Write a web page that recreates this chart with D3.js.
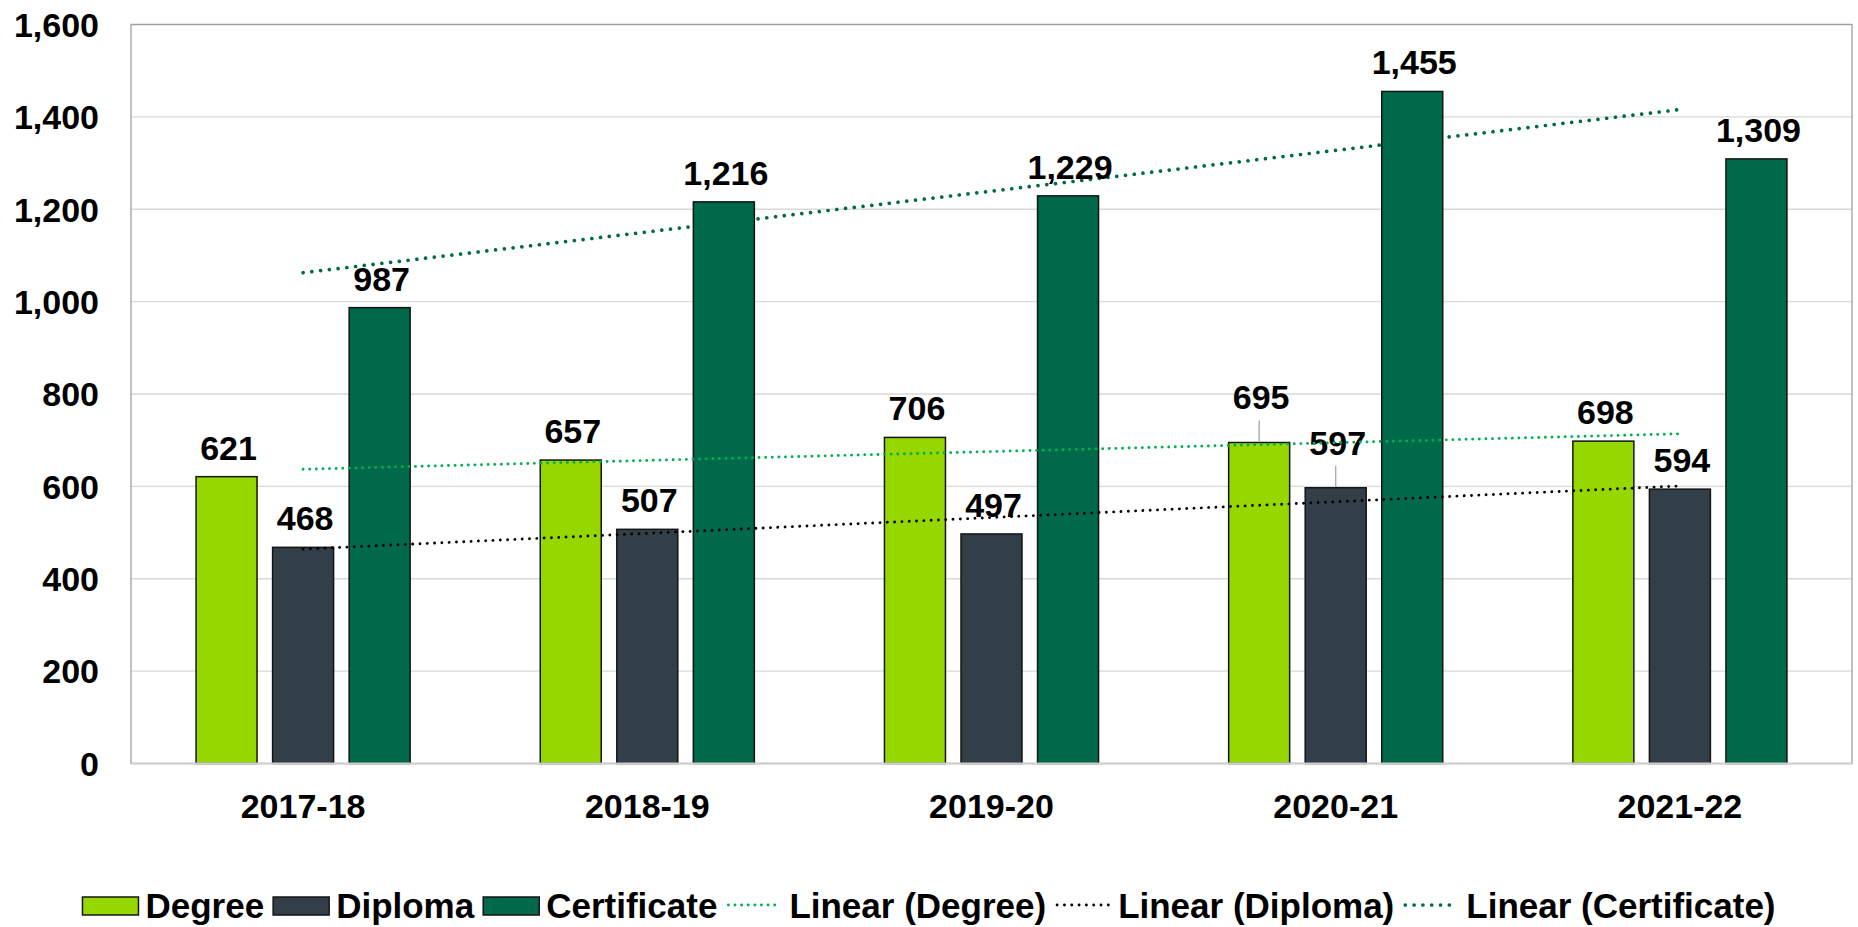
<!DOCTYPE html>
<html>
<head>
<meta charset="utf-8">
<script src="https://cdn.jsdelivr.net/npm/d3@7"></script>
<style>
  body { margin: 0; background: #fff; }
  text { font-family: "Liberation Sans", Arial, sans-serif; font-weight: bold; fill: #000; }
</style>
</head>
<body>
<div class="canva"></div>
<script>
// data
const categories = ["2017-18", "2018-19", "2019-20", "2020-21", "2021-22"];
const degree = [621, 657, 706, 695, 698];
const diploma = [468, 507, 497, 597, 594];
const certificate = [987, 1216, 1229, 1455, 1309];
const seriesNames = ["Degree", "Diploma", "Certificate"];
const yTicks = [0, 200, 400, 600, 800, 1000, 1200, 1400, 1600];
// labels that excel pushed up with a leader line
const liftedLabels = [["Degree", "2020-21"], ["Diploma", "2020-21"]];

const WIDTH = 1858;
const HEIGHT = 927;
const PLOT = { LEFT: 131, RIGHT: 1852, TOP: 24.5, BOTTOM: 763.5 };

const COLORS = { Degree: "#97d700", Diploma: "#333f48", Certificate: "#00694a" };
const TREND = {
    Degree: { color: "#00b050", width: 2.9, dash: "0.01 6.6" },
    Diploma: { color: "#000000", width: 2.9, dash: "0.01 7.3" },
    Certificate: { color: "#00694a", width: 3.7, dash: "0.01 8.8" },
};

const values = { Degree: degree, Diploma: diploma, Certificate: certificate };
const fmt = d3.format(",");

const svg = d3.select(".canva").append("svg")
    .attr("width", WIDTH)
    .attr("height", HEIGHT);

const x0 = d3.scaleBand()
    .domain(categories)
    .range([PLOT.LEFT, PLOT.RIGHT])
    .paddingInner(0.378)
    .paddingOuter(0.189);

const x1 = d3.scaleBand()
    .domain(seriesNames)
    .range([0, x0.bandwidth()])
    .paddingInner(0.203);

const y = d3.scaleLinear()
    .domain([0, 1600])
    .range([PLOT.BOTTOM, PLOT.TOP]);

// gridlines
svg.append("g").selectAll("line")
    .data(yTicks.filter(t => t > 0))
    .enter().append("line")
    .attr("x1", PLOT.LEFT).attr("x2", PLOT.RIGHT)
    .attr("y1", d => y(d)).attr("y2", d => y(d))
    .attr("stroke", "#d9d9d9")
    .attr("stroke-width", 1.4);

// plot border
svg.append("rect")
    .attr("x", PLOT.LEFT).attr("y", PLOT.TOP)
    .attr("width", PLOT.RIGHT - PLOT.LEFT)
    .attr("height", PLOT.BOTTOM - PLOT.TOP)
    .attr("fill", "none")
    .attr("stroke", "#a0a0a0")
    .attr("stroke-width", 1.3);

// linear trend from least squares, x = 1..n like excel
function trend(vals) {
    const n = vals.length;
    const xs = d3.range(1, n + 1);
    const mx = d3.mean(xs), my = d3.mean(vals);
    const slope = d3.sum(xs, (xv, i) => (xv - mx) * (vals[i] - my)) / d3.sum(xs, xv => (xv - mx) ** 2);
    return xs.map(xv => my + slope * (xv - mx));
}

const line = d3.line()
    .x((d, i) => x0(categories[i]) + x0.bandwidth() / 2)
    .y(d => y(d));

function drawTrend(name) {
    svg.append("path")
        .datum(trend(values[name]))
        .attr("d", line)
        .attr("fill", "none")
        .attr("stroke", TREND[name].color)
        .attr("stroke-width", TREND[name].width)
        .attr("stroke-linecap", "round")
        .attr("stroke-dasharray", TREND[name].dash);
}

// certificate trend sits behind the bars
drawTrend("Certificate");

// bars
const groups = svg.append("g").selectAll("g")
    .data(categories)
    .enter().append("g")
    .attr("transform", d => `translate(${x0(d)},0)`);

groups.selectAll("rect")
    .data((c, ci) => seriesNames.map(s => ({ s, c, v: values[s][ci] })))
    .enter().append("rect")
    .attr("x", d => x1(d.s))
    .attr("y", d => y(d.v))
    .attr("width", x1.bandwidth())
    .attr("height", d => y(0) - y(d.v))
    .attr("fill", d => COLORS[d.s])
    .attr("stroke", "#141414")
    .attr("stroke-width", 1.5);

// x axis line
svg.append("line")
    .attr("x1", PLOT.LEFT).attr("x2", PLOT.RIGHT)
    .attr("y1", PLOT.BOTTOM).attr("y2", PLOT.BOTTOM)
    .attr("stroke", "#d0d0d0")
    .attr("stroke-width", 2);

drawTrend("Degree");
drawTrend("Diploma");

// data labels
const isLifted = d => liftedLabels.some(l => l[0] === d.s && l[1] === d.c);

groups.selectAll("line.leader")
    .data((c, ci) => seriesNames.map(s => ({ s, c, v: values[s][ci] })).filter(isLifted))
    .enter().append("line")
    .attr("class", "leader")
    .attr("x1", d => x1(d.s) + x1.bandwidth() / 2)
    .attr("x2", d => x1(d.s) + x1.bandwidth() / 2)
    .attr("y1", d => y(d.v) - 33 + 11)
    .attr("y2", d => y(d.v) - 1)
    .attr("stroke", "#a6a6a6")
    .attr("stroke-width", 1.3);

groups.selectAll("text")
    .data((c, ci) => seriesNames.map(s => ({ s, c, v: values[s][ci] })))
    .enter().append("text")
    .attr("x", d => x1(d.s) + x1.bandwidth() / 2 + 2)
    .attr("y", d => y(d.v) - (isLifted(d) ? 33 : 17))
    .attr("text-anchor", "middle")
    .attr("font-size", 34)
    .text(d => fmt(d.v));

// y tick labels
svg.append("g").selectAll("text")
    .data(yTicks)
    .enter().append("text")
    .attr("x", 99)
    .attr("y", d => y(d) + 12.3)
    .attr("text-anchor", "end")
    .attr("font-size", 34)
    .text(d => fmt(d));

// x category labels
svg.append("g").selectAll("text")
    .data(categories)
    .enter().append("text")
    .attr("x", d => x0(d) + x0.bandwidth() / 2)
    .attr("y", 818)
    .attr("text-anchor", "middle")
    .attr("font-size", 34)
    .text(d => d);

// legend
const legendItems = seriesNames.map(s => ({ label: s, kind: "bar", s }))
    .concat(seriesNames.map(s => ({ label: `Linear (${s})`, kind: "trend", s })));

const legend = svg.append("g");
let cursor = 0;
legendItems.forEach(item => {
    const g = legend.append("g").attr("transform", `translate(${cursor},0)`);
    if (item.kind === "bar") {
        g.append("rect")
            .attr("x", 0).attr("y", 897)
            .attr("width", 56).attr("height", 18)
            .attr("fill", COLORS[item.s])
            .attr("stroke", "#141414")
            .attr("stroke-width", 1.5);
    } else {
        g.append("line")
            .attr("x1", 2).attr("x2", 54)
            .attr("y1", 905).attr("y2", 905)
            .attr("stroke", TREND[item.s].color)
            .attr("stroke-width", TREND[item.s].width)
            .attr("stroke-linecap", "round")
            .attr("stroke-dasharray", TREND[item.s].dash);
    }
    const t = g.append("text")
        .attr("x", 63).attr("y", 918)
        .attr("font-size", 35)
        .text(item.label);
    cursor += 63 + t.node().getComputedTextLength() + 9;
});
const legendWidth = cursor - 9;
legend.attr("transform", `translate(${WIDTH / 2 - legendWidth / 2},0)`);
</script>
</body>
</html>
